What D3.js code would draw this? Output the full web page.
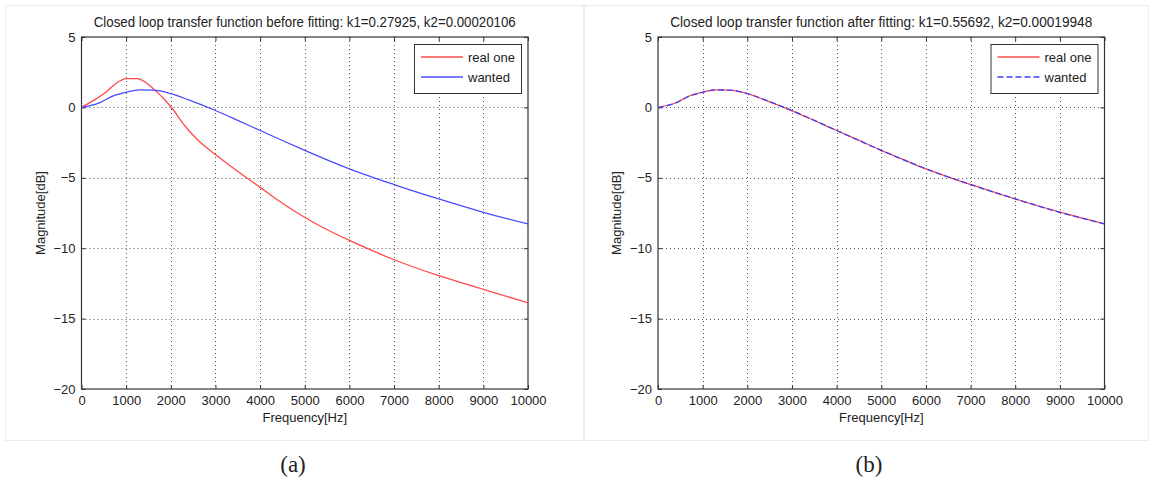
<!DOCTYPE html>
<html><head><meta charset="utf-8">
<script src="https://cdn.jsdelivr.net/npm/d3@7"></script>
<style>
html,body{margin:0;padding:0;background:#fff;}
svg text{font-family:"Liberation Sans",Arial,sans-serif;fill:#222;}
</style></head>
<body>
<svg id="chart" width="1153" height="480"></svg>
<script>
// ---- data ----
const titles = [
  "Closed loop transfer function before fitting: k1=0.27925, k2=0.00020106",
  "Closed loop transfer function after fitting: k1=0.55692, k2=0.00019948"
];
const subLabels = ["(a)", "(b)"];
const xTicks = [0,1000,2000,3000,4000,5000,6000,7000,8000,9000,10000];
const yTicks = [5,0,-5,-10,-15,-20];
const legendNames = ["real one", "wanted"];

const freqBefore = [0,300,550,750,1000,1250,1450,1650,1850,2050,2300,2600,3000,3350,3700,4000,4400,4900,5450,6000,7000,8000,9000,10000];
const magBeforeReal = [0,0.55,1.1,1.65,2.05,2.05,1.75,1.2,0.6,-0.15,-1.25,-2.3,-3.35,-4.2,-5.0,-5.68,-6.6,-7.62,-8.6,-9.45,-10.82,-11.95,-12.92,-13.88];

const freqWanted = [0,400,700,1000,1300,1600,2000,2400,3000,3500,4000,4500,5000,5500,6000,7000,8000,9000,10000];
const magWanted = [0,0.32,0.8,1.07,1.24,1.23,0.98,0.53,-0.22,-0.92,-1.64,-2.35,-3.05,-3.72,-4.36,-5.48,-6.5,-7.45,-8.28];
const magAfterReal = [0,0.33,0.81,1.09,1.24,1.22,0.98,0.52,-0.24,-0.93,-1.64,-2.34,-3.05,-3.71,-4.37,-5.47,-6.5,-7.44,-8.27];

// ---- drawing ----
const svg = d3.select("#chart");
const panels = [
  {x0:81.5, x1:528, frame:[5,5,578,435], labelX:293,
   series:[{f:freqBefore, m:magBeforeReal, color:"#ff4a4a", dash:null},
           {f:freqWanted, m:magWanted, color:"#4a4aff", dash:null}]},
  {x0:658, x1:1104.5, frame:[584,5,564,435], labelX:869,
   series:[{f:freqWanted, m:magAfterReal, color:"#ff4a4a", dash:null},
           {f:freqWanted, m:magWanted, color:"#3d3dff", dash:"6,3"}]}
];
const yTop = 37, yBot = 389;

panels.forEach((p, i) => {
  const g = svg.append("g");
  g.append("rect").attr("x",p.frame[0]+0.5).attr("y",p.frame[1]+0.5)
    .attr("width",p.frame[2]).attr("height",p.frame[3])
    .attr("fill","none").attr("stroke","#ececec");

  const x = d3.scaleLinear().domain([0,10000]).range([p.x0,p.x1]);
  const y = d3.scaleLinear().domain([-20,5]).range([yBot,yTop]);

  // grid
  g.append("g").selectAll("line").data(xTicks.slice(1,-1)).join("line")
    .attr("x1",d=>Math.round(x(d))+0.5).attr("x2",d=>Math.round(x(d))+0.5)
    .attr("y1",yTop).attr("y2",yBot)
    .attr("stroke","#555").attr("stroke-dasharray","1,3");
  g.append("g").selectAll("line").data(yTicks.slice(1,-1)).join("line")
    .attr("y1",d=>Math.round(y(d))+0.5).attr("y2",d=>Math.round(y(d))+0.5)
    .attr("x1",p.x0).attr("x2",p.x1)
    .attr("stroke","#555").attr("stroke-dasharray","1,3");

  // axes
  const xb = g.append("g").attr("transform",`translate(0,${yBot})`)
    .call(d3.axisBottom(x).tickValues(xTicks).tickSizeInner(-4).tickSizeOuter(0).tickPadding(7).tickFormat(d3.format("d")));
  const xt = g.append("g").attr("transform",`translate(0,${yTop})`)
    .call(d3.axisTop(x).tickValues(xTicks).tickSizeInner(-4).tickSizeOuter(0).tickFormat(""));
  const yl = g.append("g").attr("transform",`translate(${p.x0},0)`)
    .call(d3.axisLeft(y).tickValues(yTicks).tickSizeInner(-4).tickSizeOuter(0).tickPadding(6).tickFormat(d3.format("d")));
  const yr = g.append("g").attr("transform",`translate(${p.x1},0)`)
    .call(d3.axisRight(y).tickValues(yTicks).tickSizeInner(-4).tickSizeOuter(0).tickFormat(""));
  [xb,xt,yl,yr].forEach(a=>{
    a.select(".domain").remove();
    a.selectAll("line").attr("stroke","#333");
    a.selectAll("text").attr("font-size",13).attr("fill","#222")
      .attr("font-family","Liberation Sans, Arial, sans-serif");
  });
  g.append("rect").attr("x",p.x0).attr("y",yTop).attr("width",p.x1-p.x0).attr("height",yBot-yTop)
    .attr("fill","none").attr("stroke","#333").attr("stroke-width",1.2);

  // lines
  const clip = "clip"+i;
  g.append("clipPath").attr("id",clip).append("rect")
    .attr("x",p.x0).attr("y",yTop).attr("width",p.x1-p.x0).attr("height",yBot-yTop);
  p.series.forEach(s=>{
    const pts = s.f.map((f,k)=>[f,s.m[k]]);
    g.append("path").datum(pts)
      .attr("clip-path",`url(#${clip})`)
      .attr("d",d3.line().x(d=>x(d[0])).y(d=>y(d[1])).curve(d3.curveMonotoneX))
      .attr("fill","none").attr("stroke",s.color).attr("stroke-width",1.3)
      .attr("stroke-dasharray",s.dash);
  });

  // legend
  const lx = p.x1 - 114, ly = 44;
  g.append("rect").attr("x",lx+0.5).attr("y",ly+0.5).attr("width",107).attr("height",49)
    .attr("fill","#fff").attr("stroke","#333");
  p.series.forEach((s,k)=>{
    const yy = ly + 13 + k*20;
    g.append("line").attr("x1",lx+7).attr("x2",lx+49).attr("y1",yy).attr("y2",yy)
      .attr("stroke",s.color).attr("stroke-width",1.3).attr("stroke-dasharray",s.dash);
    g.append("text").attr("x",lx+54).attr("y",yy+4.5).attr("font-size",13).text(legendNames[k]);
  });

  // title and labels
  const cx = (p.x0+p.x1)/2;
  g.append("text").attr("x",cx).attr("y",27).attr("text-anchor","middle")
    .attr("font-size",14).attr("textLength",422).attr("lengthAdjust","spacingAndGlyphs")
    .text(titles[i]);
  g.append("text").attr("x",cx).attr("y",422).attr("text-anchor","middle")
    .attr("font-size",13).text("Frequency[Hz]");
  g.append("text").attr("transform",`translate(${p.x0-37},${(yTop+yBot)/2}) rotate(-90)`)
    .attr("text-anchor","middle").attr("font-size",13).text("Magnitude[dB]");
  g.append("text").attr("x",p.labelX).attr("y",472).attr("text-anchor","middle")
    .attr("font-size",23).style("font-family","'Liberation Serif','DejaVu Serif',serif")
    .text(subLabels[i]);
});
</script>
</body></html>
